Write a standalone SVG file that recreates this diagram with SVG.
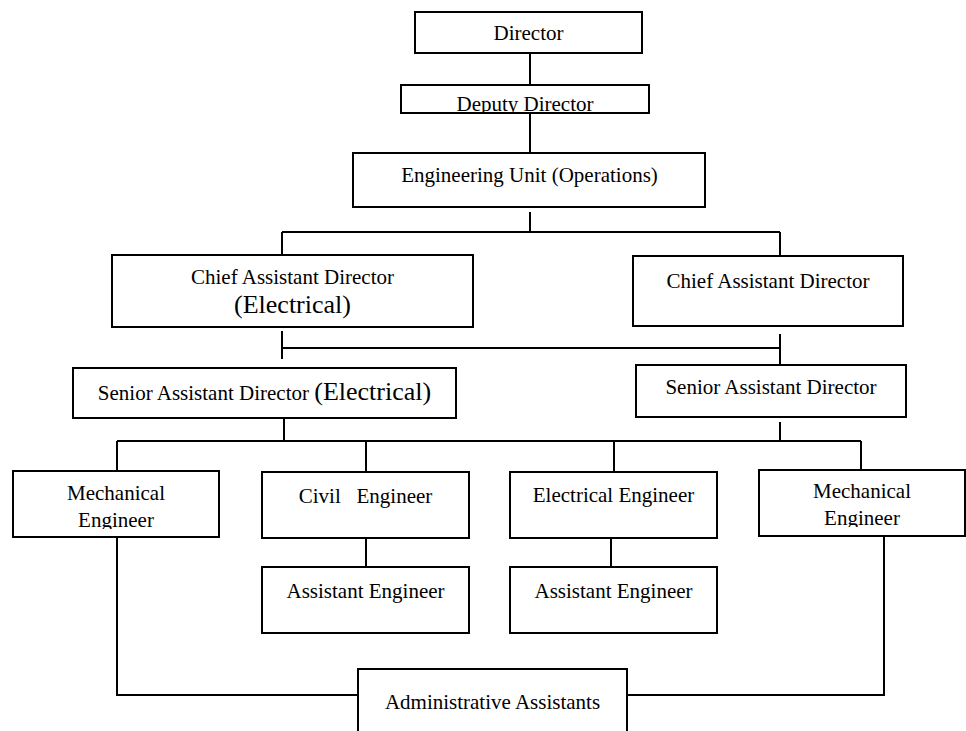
<svg xmlns="http://www.w3.org/2000/svg" width="966" height="731" viewBox="0 0 966 731">
<style>
.box{fill:#fff;stroke:#000;stroke-width:2}
.ln{fill:none;stroke:#000;stroke-width:2}
.t{font-family:"Liberation Serif","Times New Roman",serif;font-size:21px;text-anchor:middle;fill:#000}
.big{font-size:26px}
</style>
<defs>
<clipPath id="cDep"><rect x="401" y="85" width="248" height="27"/></clipPath>
<clipPath id="cMechL"><rect x="13" y="471" width="206" height="58"/></clipPath>
<clipPath id="cMechR"><rect x="759" y="470" width="206" height="57"/></clipPath>
</defs>
<rect width="966" height="731" fill="#fff"/>
<g id="connectors">
<path class="ln" d="M530 53V85M530 113V153M530 212V232M282 232H780M282 232V255M780 232V256"/>
<path class="ln" d="M282 331V359M282 348H780M780 334V365"/>
<path class="ln" d="M284 418V441M780 422V441M117 441H861M117 441V471M366 441V472M614 441V472M861 441V470"/>
<path class="ln" d="M366 538V567M611 538V567"/>
<path class="ln" d="M117 537V695H358M884 536V695H627"/>
</g>
<g id="director"><rect class="box" x="415" y="12" width="227" height="41"/><text class="t" x="528.5" y="40">Director</text></g>
<g id="deputy"><rect class="box" x="401" y="85" width="248" height="28"/><text class="t" x="525" y="111" clip-path="url(#cDep)">Deputy Director</text></g>
<g id="engunit"><rect class="box" x="353" y="153" width="352" height="54"/><text class="t" x="529.5" y="182">Engineering Unit (Operations)</text></g>
<g id="cad-elec"><rect class="box" x="112" y="255" width="361" height="72"/><text class="t" x="292.5" y="284">Chief Assistant Director</text><text class="t big" x="292.5" y="313">(Electrical)</text></g>
<g id="cad"><rect class="box" x="633" y="256" width="270" height="70"/><text class="t" x="768" y="288">Chief Assistant Director</text></g>
<g id="sad-elec"><rect class="box" x="73" y="368" width="383" height="50"/><text class="t" x="264.5" y="400">Senior Assistant Director <tspan class="big">(Electrical)</tspan></text></g>
<g id="sad"><rect class="box" x="636" y="365" width="270" height="52"/><text class="t" x="771" y="394">Senior Assistant Director</text></g>
<g id="mech-left"><rect class="box" x="13" y="471" width="206" height="66"/><text class="t" x="116" y="500">Mechanical</text><text class="t" x="116" y="527" clip-path="url(#cMechL)">Engineer</text></g>
<g id="civil"><rect class="box" x="262" y="472" width="207" height="66"/><text class="t" x="365.5" y="503" xml:space="preserve" style="white-space:pre">Civil   Engineer</text></g>
<g id="ae-civil"><rect class="box" x="262" y="567" width="207" height="66"/><text class="t" x="365.5" y="598">Assistant Engineer</text></g>
<g id="electrical"><rect class="box" x="510" y="472" width="207" height="66"/><text class="t" x="613.5" y="502">Electrical Engineer</text></g>
<g id="ae-elec"><rect class="box" x="510" y="567" width="207" height="66"/><text class="t" x="613.5" y="598">Assistant Engineer</text></g>
<g id="mech-right"><rect class="box" x="759" y="470" width="206" height="66"/><text class="t" x="862" y="498">Mechanical</text><text class="t" x="862" y="525" clip-path="url(#cMechR)">Engineer</text></g>
<g id="admin"><rect class="box" x="358" y="669" width="269" height="80"/><text class="t" x="492.5" y="709">Administrative Assistants</text></g>
</svg>
